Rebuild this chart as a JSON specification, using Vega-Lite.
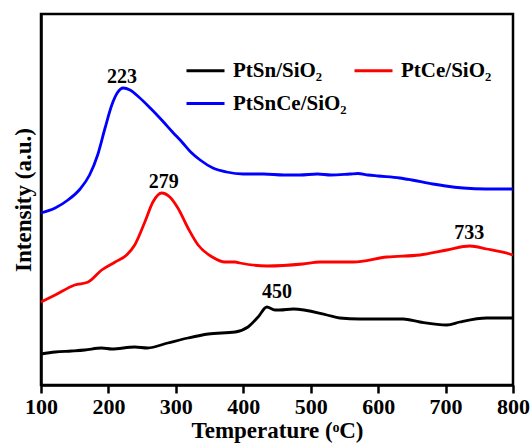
{
  "$schema": "https://vega.github.io/schema/vega-lite/v6.json",
  "width": 472,
  "height": 371,
  "autosize": {"type": "none"},
  "padding": {"left": 41, "top": 14, "right": 18, "bottom": 62},
  "background": "white",
  "config": {
    "view": {"stroke": "black", "strokeWidth": 2.5},
    "font": "Liberation Serif"
  },
  "datasets": {
    "curves": [
      {"sample": "PtSn/SiO₂", "T": 100, "I": 31},
      {"sample": "PtSn/SiO₂", "T": 121, "I": 33},
      {"sample": "PtSn/SiO₂", "T": 145, "I": 34},
      {"sample": "PtSn/SiO₂", "T": 165, "I": 35},
      {"sample": "PtSn/SiO₂", "T": 190, "I": 37},
      {"sample": "PtSn/SiO₂", "T": 205, "I": 36},
      {"sample": "PtSn/SiO₂", "T": 239, "I": 38},
      {"sample": "PtSn/SiO₂", "T": 258, "I": 37},
      {"sample": "PtSn/SiO₂", "T": 288, "I": 42},
      {"sample": "PtSn/SiO₂", "T": 318, "I": 47},
      {"sample": "PtSn/SiO₂", "T": 348, "I": 51},
      {"sample": "PtSn/SiO₂", "T": 388, "I": 53},
      {"sample": "PtSn/SiO₂", "T": 407, "I": 58},
      {"sample": "PtSn/SiO₂", "T": 422, "I": 68},
      {"sample": "PtSn/SiO₂", "T": 435, "I": 78},
      {"sample": "PtSn/SiO₂", "T": 447, "I": 75},
      {"sample": "PtSn/SiO₂", "T": 454, "I": 75},
      {"sample": "PtSn/SiO₂", "T": 474, "I": 76},
      {"sample": "PtSn/SiO₂", "T": 524, "I": 70},
      {"sample": "PtSn/SiO₂", "T": 543, "I": 67},
      {"sample": "PtSn/SiO₂", "T": 573, "I": 66},
      {"sample": "PtSn/SiO₂", "T": 637, "I": 66},
      {"sample": "PtSn/SiO₂", "T": 662, "I": 63},
      {"sample": "PtSn/SiO₂", "T": 702, "I": 60},
      {"sample": "PtSn/SiO₂", "T": 721, "I": 63},
      {"sample": "PtSn/SiO₂", "T": 761, "I": 67},
      {"sample": "PtSn/SiO₂", "T": 795, "I": 67},
      {"sample": "PtSn/SiO₂", "T": 800, "I": 67},
      {"sample": "PtCe/SiO₂", "T": 100, "I": 83},
      {"sample": "PtCe/SiO₂", "T": 121, "I": 90},
      {"sample": "PtCe/SiO₂", "T": 150, "I": 100},
      {"sample": "PtCe/SiO₂", "T": 170, "I": 103},
      {"sample": "PtCe/SiO₂", "T": 190, "I": 115},
      {"sample": "PtCe/SiO₂", "T": 210, "I": 123},
      {"sample": "PtCe/SiO₂", "T": 227, "I": 130},
      {"sample": "PtCe/SiO₂", "T": 239, "I": 140},
      {"sample": "PtCe/SiO₂", "T": 254, "I": 163},
      {"sample": "PtCe/SiO₂", "T": 266, "I": 183},
      {"sample": "PtCe/SiO₂", "T": 279, "I": 192},
      {"sample": "PtCe/SiO₂", "T": 291, "I": 188},
      {"sample": "PtCe/SiO₂", "T": 303, "I": 177},
      {"sample": "PtCe/SiO₂", "T": 318, "I": 157},
      {"sample": "PtCe/SiO₂", "T": 333, "I": 140},
      {"sample": "PtCe/SiO₂", "T": 354, "I": 128},
      {"sample": "PtCe/SiO₂", "T": 373, "I": 123},
      {"sample": "PtCe/SiO₂", "T": 388, "I": 123},
      {"sample": "PtCe/SiO₂", "T": 395, "I": 122},
      {"sample": "PtCe/SiO₂", "T": 435, "I": 119},
      {"sample": "PtCe/SiO₂", "T": 488, "I": 121},
      {"sample": "PtCe/SiO₂", "T": 514, "I": 123},
      {"sample": "PtCe/SiO₂", "T": 563, "I": 123},
      {"sample": "PtCe/SiO₂", "T": 613, "I": 128},
      {"sample": "PtCe/SiO₂", "T": 662, "I": 130},
      {"sample": "PtCe/SiO₂", "T": 702, "I": 135},
      {"sample": "PtCe/SiO₂", "T": 736, "I": 139},
      {"sample": "PtCe/SiO₂", "T": 761, "I": 136},
      {"sample": "PtCe/SiO₂", "T": 795, "I": 131},
      {"sample": "PtCe/SiO₂", "T": 800, "I": 130},
      {"sample": "PtSnCe/SiO₂", "T": 100, "I": 172},
      {"sample": "PtSnCe/SiO₂", "T": 121, "I": 177},
      {"sample": "PtSnCe/SiO₂", "T": 140, "I": 185},
      {"sample": "PtSnCe/SiO₂", "T": 158, "I": 196},
      {"sample": "PtSnCe/SiO₂", "T": 172, "I": 210},
      {"sample": "PtSnCe/SiO₂", "T": 184, "I": 230},
      {"sample": "PtSnCe/SiO₂", "T": 195, "I": 257},
      {"sample": "PtSnCe/SiO₂", "T": 205, "I": 280},
      {"sample": "PtSnCe/SiO₂", "T": 213, "I": 292},
      {"sample": "PtSnCe/SiO₂", "T": 222, "I": 297},
      {"sample": "PtSnCe/SiO₂", "T": 232, "I": 295},
      {"sample": "PtSnCe/SiO₂", "T": 245, "I": 288},
      {"sample": "PtSnCe/SiO₂", "T": 262, "I": 277},
      {"sample": "PtSnCe/SiO₂", "T": 279, "I": 265},
      {"sample": "PtSnCe/SiO₂", "T": 295, "I": 253},
      {"sample": "PtSnCe/SiO₂", "T": 309, "I": 243},
      {"sample": "PtSnCe/SiO₂", "T": 322, "I": 233},
      {"sample": "PtSnCe/SiO₂", "T": 336, "I": 225},
      {"sample": "PtSnCe/SiO₂", "T": 355, "I": 217},
      {"sample": "PtSnCe/SiO₂", "T": 375, "I": 213},
      {"sample": "PtSnCe/SiO₂", "T": 400, "I": 211},
      {"sample": "PtSnCe/SiO₂", "T": 430, "I": 211},
      {"sample": "PtSnCe/SiO₂", "T": 460, "I": 210},
      {"sample": "PtSnCe/SiO₂", "T": 484, "I": 210},
      {"sample": "PtSnCe/SiO₂", "T": 510, "I": 211},
      {"sample": "PtSnCe/SiO₂", "T": 530, "I": 210},
      {"sample": "PtSnCe/SiO₂", "T": 558, "I": 211},
      {"sample": "PtSnCe/SiO₂", "T": 570, "I": 211.5},
      {"sample": "PtSnCe/SiO₂", "T": 585, "I": 210},
      {"sample": "PtSnCe/SiO₂", "T": 600, "I": 209},
      {"sample": "PtSnCe/SiO₂", "T": 632, "I": 207},
      {"sample": "PtSnCe/SiO₂", "T": 650, "I": 205},
      {"sample": "PtSnCe/SiO₂", "T": 681, "I": 201},
      {"sample": "PtSnCe/SiO₂", "T": 700, "I": 199},
      {"sample": "PtSnCe/SiO₂", "T": 726, "I": 197},
      {"sample": "PtSnCe/SiO₂", "T": 760, "I": 196},
      {"sample": "PtSnCe/SiO₂", "T": 800, "I": 196}
    ],
    "peaks": [
      {"label": "223", "T": 220, "I": 302},
      {"label": "279", "T": 282, "I": 197},
      {"label": "733", "T": 735, "I": 146},
      {"label": "450", "T": 450, "I": 87}
    ]
  },
  "layer": [
    {
      "data": {"name": "curves"},
      "mark": {"type": "line", "strokeWidth": 2.8, "interpolate": "monotone"},
      "encoding": {
        "x": {
          "field": "T", "type": "quantitative",
          "scale": {"domain": [100, 800], "nice": false},
          "axis": {
            "values": [100, 150, 200, 250, 300, 350, 400, 450, 500, 550, 600, 650, 700, 750, 800],
            "labelExpr": "datum.value % 100 === 0 ? datum.label : ''",
            "labelOverlap": false,
            "labelFlush": false,
            "grid": false,
            "domainColor": "black", "domainWidth": 2.5,
            "tickColor": "black", "tickWidth": 2.5,
            "tickSize": {"condition": {"test": "datum.value % 100 === 0", "value": 8}, "value": 4},
            "labelFont": "Liberation Serif", "labelFontWeight": "bold", "labelFontSize": 22, "labelColor": "black",
            "labelPadding": 3,
            "title": "Temperature (ᵒC)",
            "titleFont": "Liberation Serif", "titleFontWeight": "bold", "titleFontSize": 23, "titleColor": "black",
            "titlePadding": 2
          }
        },
        "y": {
          "field": "I", "type": "quantitative",
          "scale": {"domain": [0, 371], "nice": false},
          "axis": {
            "labels": false, "ticks": false, "grid": false,
            "domainColor": "black", "domainWidth": 2.5,
            "title": "Intensity (a.u.)",
            "titleFont": "Liberation Serif", "titleFontWeight": "bold", "titleFontSize": 23, "titleColor": "black",
            "titlePadding": 6
          }
        },
        "color": {
          "field": "sample", "type": "nominal",
          "scale": {"domain": ["PtSn/SiO₂", "PtSnCe/SiO₂", "PtCe/SiO₂"], "range": ["#000000", "#0000ff", "#ff0000"]},
          "legend": {
            "title": null,
            "orient": "none",
            "legendX": 144,
            "legendY": 36,
            "columns": 2,
            "columnPadding": 1,
            "rowPadding": 2,
            "padding": 0,
            "symbolType": "stroke",
            "symbolSize": 1444,
            "symbolStrokeWidth": 3,
            "labelOffset": 7,
            "labelFont": "Liberation Serif", "labelFontWeight": "bold", "labelFontSize": 21, "labelColor": "black",
            "labelLimit": 300
          }
        }
      }
    },
    {
      "data": {"name": "peaks"},
      "mark": {"type": "text", "font": "Liberation Serif", "fontWeight": "bold", "fontSize": 20, "baseline": "alphabetic", "align": "center", "color": "black"},
      "encoding": {
        "x": {"field": "T", "type": "quantitative"},
        "y": {"field": "I", "type": "quantitative"},
        "text": {"field": "label"}
      }
    }
  ]
}
